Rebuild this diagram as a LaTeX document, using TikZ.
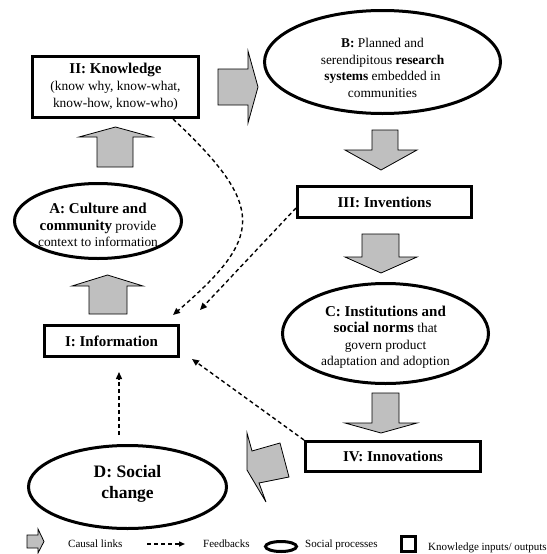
\documentclass[tikz,border=0pt]{standalone}
\usepackage{fontspec}
\setmainfont{Liberation Serif}
\usetikzlibrary{shapes.geometric,arrows.meta}
\newcommand{\hb}[1]{{\fontsize{15}{17}\selectfont\bfseries #1}}
\begin{document}
\begin{tikzpicture}[x=1pt,y=-1pt,
  kbox/.style={draw, line width=3pt, rectangle, inner sep=0pt, align=center, font=\fontsize{15}{17}\selectfont\bfseries},
  sproc/.style={draw, line width=3pt, ellipse, inner sep=0pt},
  ptext/.style={align=center, inner sep=0pt, font=\fontsize{13.4}{16.5}\selectfont},
  causal/.style={draw=black, line width=0.8pt, fill=black!25, line join=miter},
  fb/.style={line width=1.4pt, dash pattern=on 4pt off 3pt, -{Triangle[length=7pt,width=6pt]}},
  legtext/.style={font=\fontsize{11}{13}\selectfont, anchor=west, inner sep=0pt}
]
\useasboundingbox (0,0) rectangle (546,554);

% knowledge inputs / outputs
\node[kbox, minimum width=166, minimum height=61] (K) at (115.5,87)
  {II: Knowledge\\{\mdseries\fontsize{13.4}{16}\selectfont(know why, know-what,}\\{\mdseries\fontsize{13.4}{16}\selectfont know-how, know-who)}};
\node[kbox, minimum width=174, minimum height=31] (III) at (384.5,202) {III: Inventions};
\node[kbox, minimum width=175, minimum height=30] (IV) at (393,456.5) {IV: Innovations};
\node[kbox, minimum width=134, minimum height=31] (I) at (111.5,341) {I: Information};

% social processes
\node[sproc, minimum width=236, minimum height=103] (B) at (382.5,62) {};
\node[ptext] (Bt) at (382.5,68) {\textbf{B:} Planned and\\serendipitous \textbf{research}\\\textbf{systems} embedded in\\communities};
\node[sproc, minimum width=167, minimum height=75] (A) at (98,221) {};
\node[ptext] (At) at (98,225) {\hb{A: Culture and}\\\hb{community} provide\\context to information};
\node[sproc, minimum width=206, minimum height=100] (C) at (385.5,333.5) {};
\node[ptext] (Ct) at (385.5,337) {\hb{C: Institutions and}\\\hb{social norms} that\\govern product\\adaptation and adoption};
\node[sproc, minimum width=198, minimum height=83] (D) at (127.5,487) {};
\node[align=center, inner sep=0pt, font=\fontsize{17.5}{21}\selectfont\bfseries] (Dt) at (127.5,484) {D: Social\\change};

% causal links (block arrows)
\filldraw[causal] (97,167) -- (97,137) -- (79,137) -- (115.5,127) -- (152,137) -- (133,137) -- (133,167) -- cycle;
\filldraw[causal] (218,69) -- (248,69) -- (248,51) -- (258,87) -- (248,123) -- (248,105) -- (218,105) -- cycle;
\filldraw[causal] (372,130) -- (398,130) -- (398,150) -- (417,150) -- (381,170) -- (345,150) -- (372,150) -- cycle;
\filldraw[causal] (362,234) -- (399,234) -- (399,257) -- (417,257) -- (381,273) -- (345,257) -- (362,257) -- cycle;
\filldraw[causal] (372,393) -- (399,393) -- (399,423) -- (417,423) -- (381,433) -- (345,423) -- (372,423) -- cycle;
\filldraw[causal] (89,314) -- (89,286) -- (72,286) -- (107.5,275) -- (143,286) -- (127,286) -- (127,314) -- cycle;
\filldraw[causal] (247,433) -- (252,451) -- (280,443) -- (289,477) -- (259,483) -- (266,502) -- (247,470) -- cycle;

% feedbacks
\coordinate (f1s) at (173,119);
\coordinate (f1e) at (173,315);
\coordinate (f2s) at (296,208);
\coordinate (f2e) at (200,310);
\coordinate (f3e) at (192,359);
\coordinate (f4s) at (119,435);
\coordinate (f4e) at (119,372);
\draw[fb] (f1s) .. controls (268,208) and (262,238) .. (f1e);
\draw[fb] (f2s) -- (f2e);
\draw[fb] (IV.north west) -- (f3e);
\draw[fb] (f4s) -- (f4e);

% legend
\filldraw[causal] (27,535) -- (38,535) -- (38,529) -- (44,541.5) -- (38,553) -- (38,548) -- (27,548) -- cycle;
\node[legtext] (l1) at (68,544) {Causal links};
\coordinate (lfs) at (147,544);
\coordinate (lfe) at (185,544);
\draw[fb, -{Triangle[length=6pt,width=5pt]}] (lfs) -- (lfe);
\node[legtext] (l2) at (203,544) {Feedbacks};
\node[draw, ellipse, line width=3pt, inner sep=0pt, minimum width=31, minimum height=10] (le) at (281,546.5) {};
\node[legtext] (l3) at (305,545) {Social processes};
\node[draw, line width=3pt, inner sep=0pt, minimum width=14, minimum height=15] (lsq) at (408.5,544) {};
\node[legtext] (l4) at (428,548) {Knowledge inputs/ outputs};
\end{tikzpicture}
\end{document}
